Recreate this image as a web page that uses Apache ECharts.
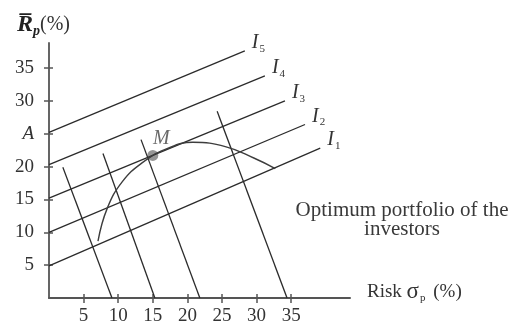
<!DOCTYPE html>
<html>
<head>
<meta charset="utf-8">
<script src="https://cdn.jsdelivr.net/npm/echarts@6/dist/echarts.min.js"></script>
<style>html,body{margin:0;padding:0;background:#fff}#c{width:515px;height:326px}</style>
</head>
<body>
<div id="c"></div>
<script>
// ---- data ----
const xTicks = [5, 10, 15, 20, 25, 30, 35];
const yTicks = [5, 10, 15, 20, 25, 30, 35];
const yTickText = ['5', '10', '15', '20', 'A', '30', '35'];
const indiffSubs = ['1', '2', '3', '4', '5'];
const indiff1 = [[0, 4.9], [39.2, 22.8]];
const indiff2 = [[0, 10.0], [37.0, 26.4]];
const indiff3 = [[0, 15.2], [34.1, 30.0]];
const indiff4 = [[0, 20.3], [31.2, 33.8]];
const indiff5 = [[0, 25.2], [28.3, 37.6]];
const risk1 = [[2.0, 19.9], [9.1, 0]];
const risk2 = [[7.8, 22.0], [15.3, 0]];
const risk3 = [[13.3, 24.1], [21.8, 0]];
const risk4 = [[24.3, 28.4], [34.4, 0]];
const frontier = [[7.08, 8.65], [8.4, 13.6], [10.6, 17.7], [13.5, 20.6], [16.8, 22.6],
  [20.8, 23.7], [25.6, 23.0], [29.6, 21.3], [32.7, 19.7]];
const pointM = [15.0, 21.7];
const noteText = 'Optimum portfolio of the\ninvestors';

const SERIF = '"Liberation Serif", "DejaVu Serif", serif';
const INK = '#2b2b2b';
const AXIS = '#555';

const indiffLines = [indiff1, indiff2, indiff3, indiff4, indiff5];
const riskLines = [risk1, risk2, risk3, risk4];

const series = [];
riskLines.forEach((d, i) => series.push({
  type: 'line', name: 'risk' + (i + 1), data: d, symbol: 'none', silent: true,
  lineStyle: { color: INK, width: 1.3 }
}));
indiffLines.forEach((d, i) => series.push({
  type: 'line', name: 'I' + indiffSubs[i], data: d, symbol: 'none', silent: true,
  lineStyle: { color: INK, width: 1.3 },
  endLabel: {
    show: true,
    formatter: () => '{i|I}{s|' + indiffSubs[i] + '}',
    offset: [-1, -8],
    rich: {
      i: { fontFamily: SERIF, fontStyle: 'italic', fontSize: 20, color: '#333', lineHeight: 22 },
      s: { fontFamily: SERIF, fontSize: 11, color: '#333', lineHeight: 11, padding: [12, 0, 0, 1] }
    }
  }
}));
series.push({
  type: 'line', name: 'frontier', data: frontier, symbol: 'none', smooth: 0.45, silent: true,
  lineStyle: { color: '#3d3d3d', width: 1.4 }
});
series.push({
  type: 'scatter', name: 'M', data: [pointM], symbolSize: 11, silent: true,
  itemStyle: { color: '#7a7a7a' },
  label: {
    show: true, formatter: 'M', position: [14, -11], align: 'center', verticalAlign: 'middle',
    fontFamily: SERIF, fontStyle: 'italic', fontSize: 20, color: '#444'
  }
});

const chart = echarts.init(document.getElementById('c'), null, { renderer: 'canvas' });
chart.setOption({
  animation: false,
  backgroundColor: '#fff',
  grid: { left: 49, top: 43, width: 301, height: 256 },
  xAxis: [{
    type: 'value', min: 0, max: 43.5, interval: 5,
    axisLine: { show: true, lineStyle: { color: AXIS, width: 2 } },
    axisTick: { show: true, length: 5, customValues: xTicks, lineStyle: { color: AXIS, width: 1.5 } },
    axisLabel: { customValues: xTicks, margin: 9, fontFamily: SERIF, fontSize: 19, color: '#333' },
    splitLine: { show: false },
    name: '{t|Risk }{g|σ}{s|p}{t| (%)}',
    nameLocation: 'end', nameGap: 17,
    nameTextStyle: {
      align: 'left', verticalAlign: 'middle', padding: [0, 0, 12, 0],
      rich: {
        t: { fontFamily: SERIF, fontSize: 19, color: '#333', lineHeight: 22 },
        g: { fontFamily: SERIF, fontSize: 23, color: '#333', lineHeight: 22 },
        s: { fontFamily: SERIF, fontSize: 11, color: '#333', lineHeight: 11, padding: [12, 3, 0, 1] }
      }
    }
  }, {
    type: 'value', min: 0, max: 43.5, interval: 5, position: 'bottom',
    axisLine: { show: false },
    axisTick: { show: true, inside: true, length: 4, customValues: xTicks, lineStyle: { color: AXIS, width: 1.5 } },
    axisLabel: { show: false },
    splitLine: { show: false }
  }],
  yAxis: [{
    type: 'value', min: 0, max: 38.8, interval: 5, position: 'left',
    axisLine: { show: true, lineStyle: { color: AXIS, width: 1.8 } },
    axisTick: { show: true, length: 5, customValues: yTicks, lineStyle: { color: AXIS, width: 1.5 } },
    axisLabel: {
      customValues: yTicks, margin: 15, fontFamily: SERIF, fontSize: 19, color: '#333',
      formatter: v => {
        const t = yTickText[yTicks.indexOf(v)];
        return t === 'A' ? '{a|A}' : t;
      },
      rich: { a: { fontFamily: SERIF, fontStyle: 'italic', fontSize: 19, color: '#333' } }
    },
    splitLine: { show: false },
    name: '{r|R\u0305}{p|p}{u|(%)}',
    nameLocation: 'end', nameGap: 4,
    nameTextStyle: {
      padding: [0, 11, 0, 0],
      rich: {
        r: { fontFamily: SERIF, fontStyle: 'italic', fontWeight: 'bold', fontSize: 24, color: '#222', lineHeight: 28 },
        p: { fontFamily: SERIF, fontStyle: 'italic', fontWeight: 'bold', fontSize: 14, color: '#222', lineHeight: 14, padding: [12, 0, 0, 0] },
        u: { fontFamily: SERIF, fontSize: 20, color: '#333', lineHeight: 28 }
      }
    }
  }, {
    type: 'value', min: 0, max: 38.8, interval: 5, position: 'left',
    axisLine: { show: false },
    axisTick: { show: true, inside: true, length: 4, customValues: yTicks, lineStyle: { color: AXIS, width: 1.5 } },
    axisLabel: { show: false },
    splitLine: { show: false }
  }],
  graphic: [{
    type: 'text', x: 402, y: 201,
    style: {
      text: noteText, fill: '#3a3a3a', align: 'center', verticalAlign: 'top',
      font: '21px "Liberation Serif", serif', lineHeight: 19
    }
  }],
  series: series
});
</script>
</body>
</html>
